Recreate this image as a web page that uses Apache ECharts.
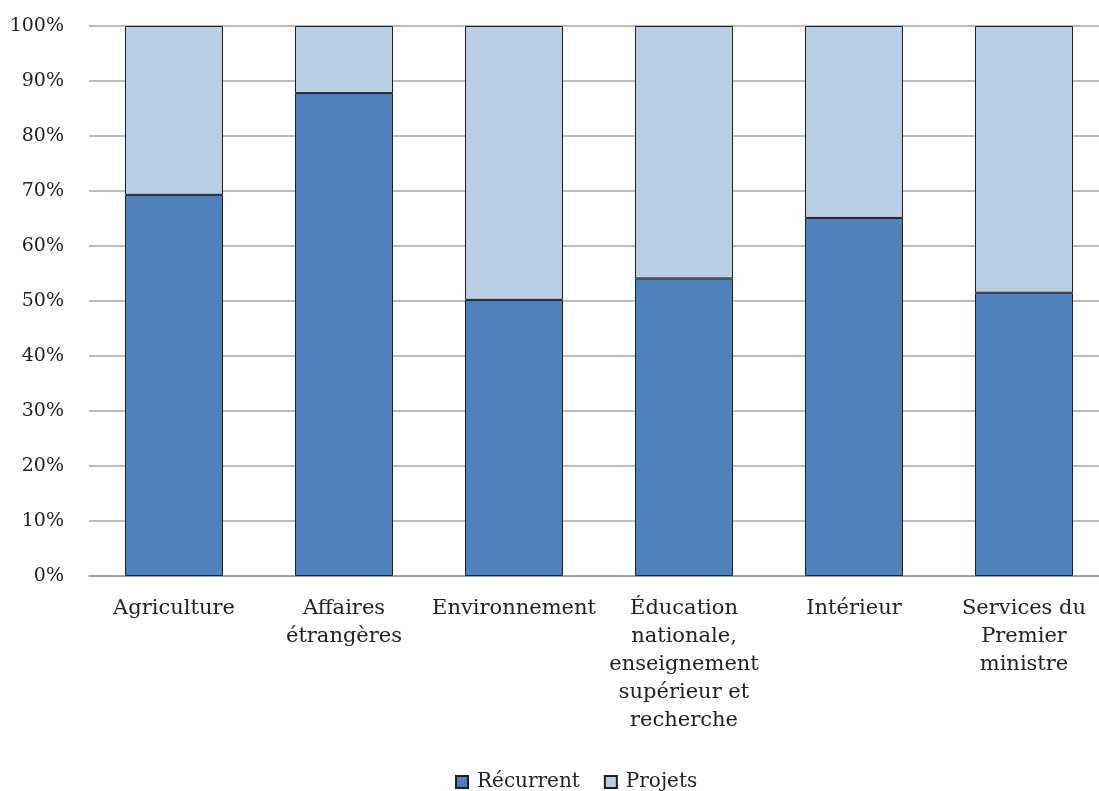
<!DOCTYPE html>
<html>
<head>
<meta charset="utf-8">
<script src="https://cdn.jsdelivr.net/npm/echarts@6/dist/echarts.min.js"></script>
<style>
  html, body { margin: 0; padding: 0; background: #fff; }
  #chart { width: 1099px; height: 791px; }
</style>
</head>
<body>
<div id="chart"></div>
<script>
const categories = [
  'Agriculture',
  'Affaires\nétrangères',
  'Environnement',
  'Éducation\nnationale,\nenseignement\nsupérieur et\nrecherche',
  'Intérieur',
  'Services du\nPremier\nministre'
];
const recurrent = [69.3, 87.8, 50.2, 54.1, 65.1, 51.5];
const projets = [30.7, 12.2, 49.8, 45.9, 34.9, 48.5];
const seriesNames = ['Récurrent', 'Projets'];

const font = '"DejaVu Serif", "Liberation Serif", serif';
const chart = echarts.init(document.getElementById('chart'));

chart.setOption({
  animation: false,
  textStyle: { fontFamily: font },
  // plot is 6 x 170 px wide; its right end runs past the canvas like in the original
  grid: { left: 89, width: 1020, top: 26, height: 550, outerBoundsMode: 'none', containLabel: false },
  legend: {
    top: 767,
    left: 450,
    itemWidth: 12,
    itemHeight: 12,
    itemGap: 24,
    icon: 'rect',
    textStyle: { fontFamily: font, fontSize: 20, color: '#222', padding: [0, 0, 0, 4] },
    data: seriesNames
  },
  xAxis: {
    type: 'category',
    data: categories,
    axisTick: { show: false },
    axisLine: { lineStyle: { color: '#999', width: 1.5 } },
    axisLabel: {
      interval: 0,
      margin: 19,
      fontSize: 21,
      lineHeight: 28,
      color: '#222',
      fontFamily: font
    }
  },
  yAxis: {
    type: 'value',
    min: 0,
    max: 100,
    interval: 10,
    axisLabel: {
      formatter: '{value}%',
      fontSize: 19,
      color: '#222',
      margin: 25,
      fontFamily: font
    },
    splitLine: { lineStyle: { color: '#a6a6a6', width: 1.5 } }
  },
  series: [
    {
      name: seriesNames[0],
      type: 'bar',
      stack: 'total',
      data: recurrent,
      barWidth: 98,
      itemStyle: { color: '#4F81BD', borderColor: '#1f1f1f', borderWidth: 1 }
    },
    {
      name: seriesNames[1],
      type: 'bar',
      stack: 'total',
      data: projets,
      itemStyle: { color: '#B9CDE5', borderColor: '#1f1f1f', borderWidth: 1 }
    }
  ]
});
</script>
</body>
</html>
